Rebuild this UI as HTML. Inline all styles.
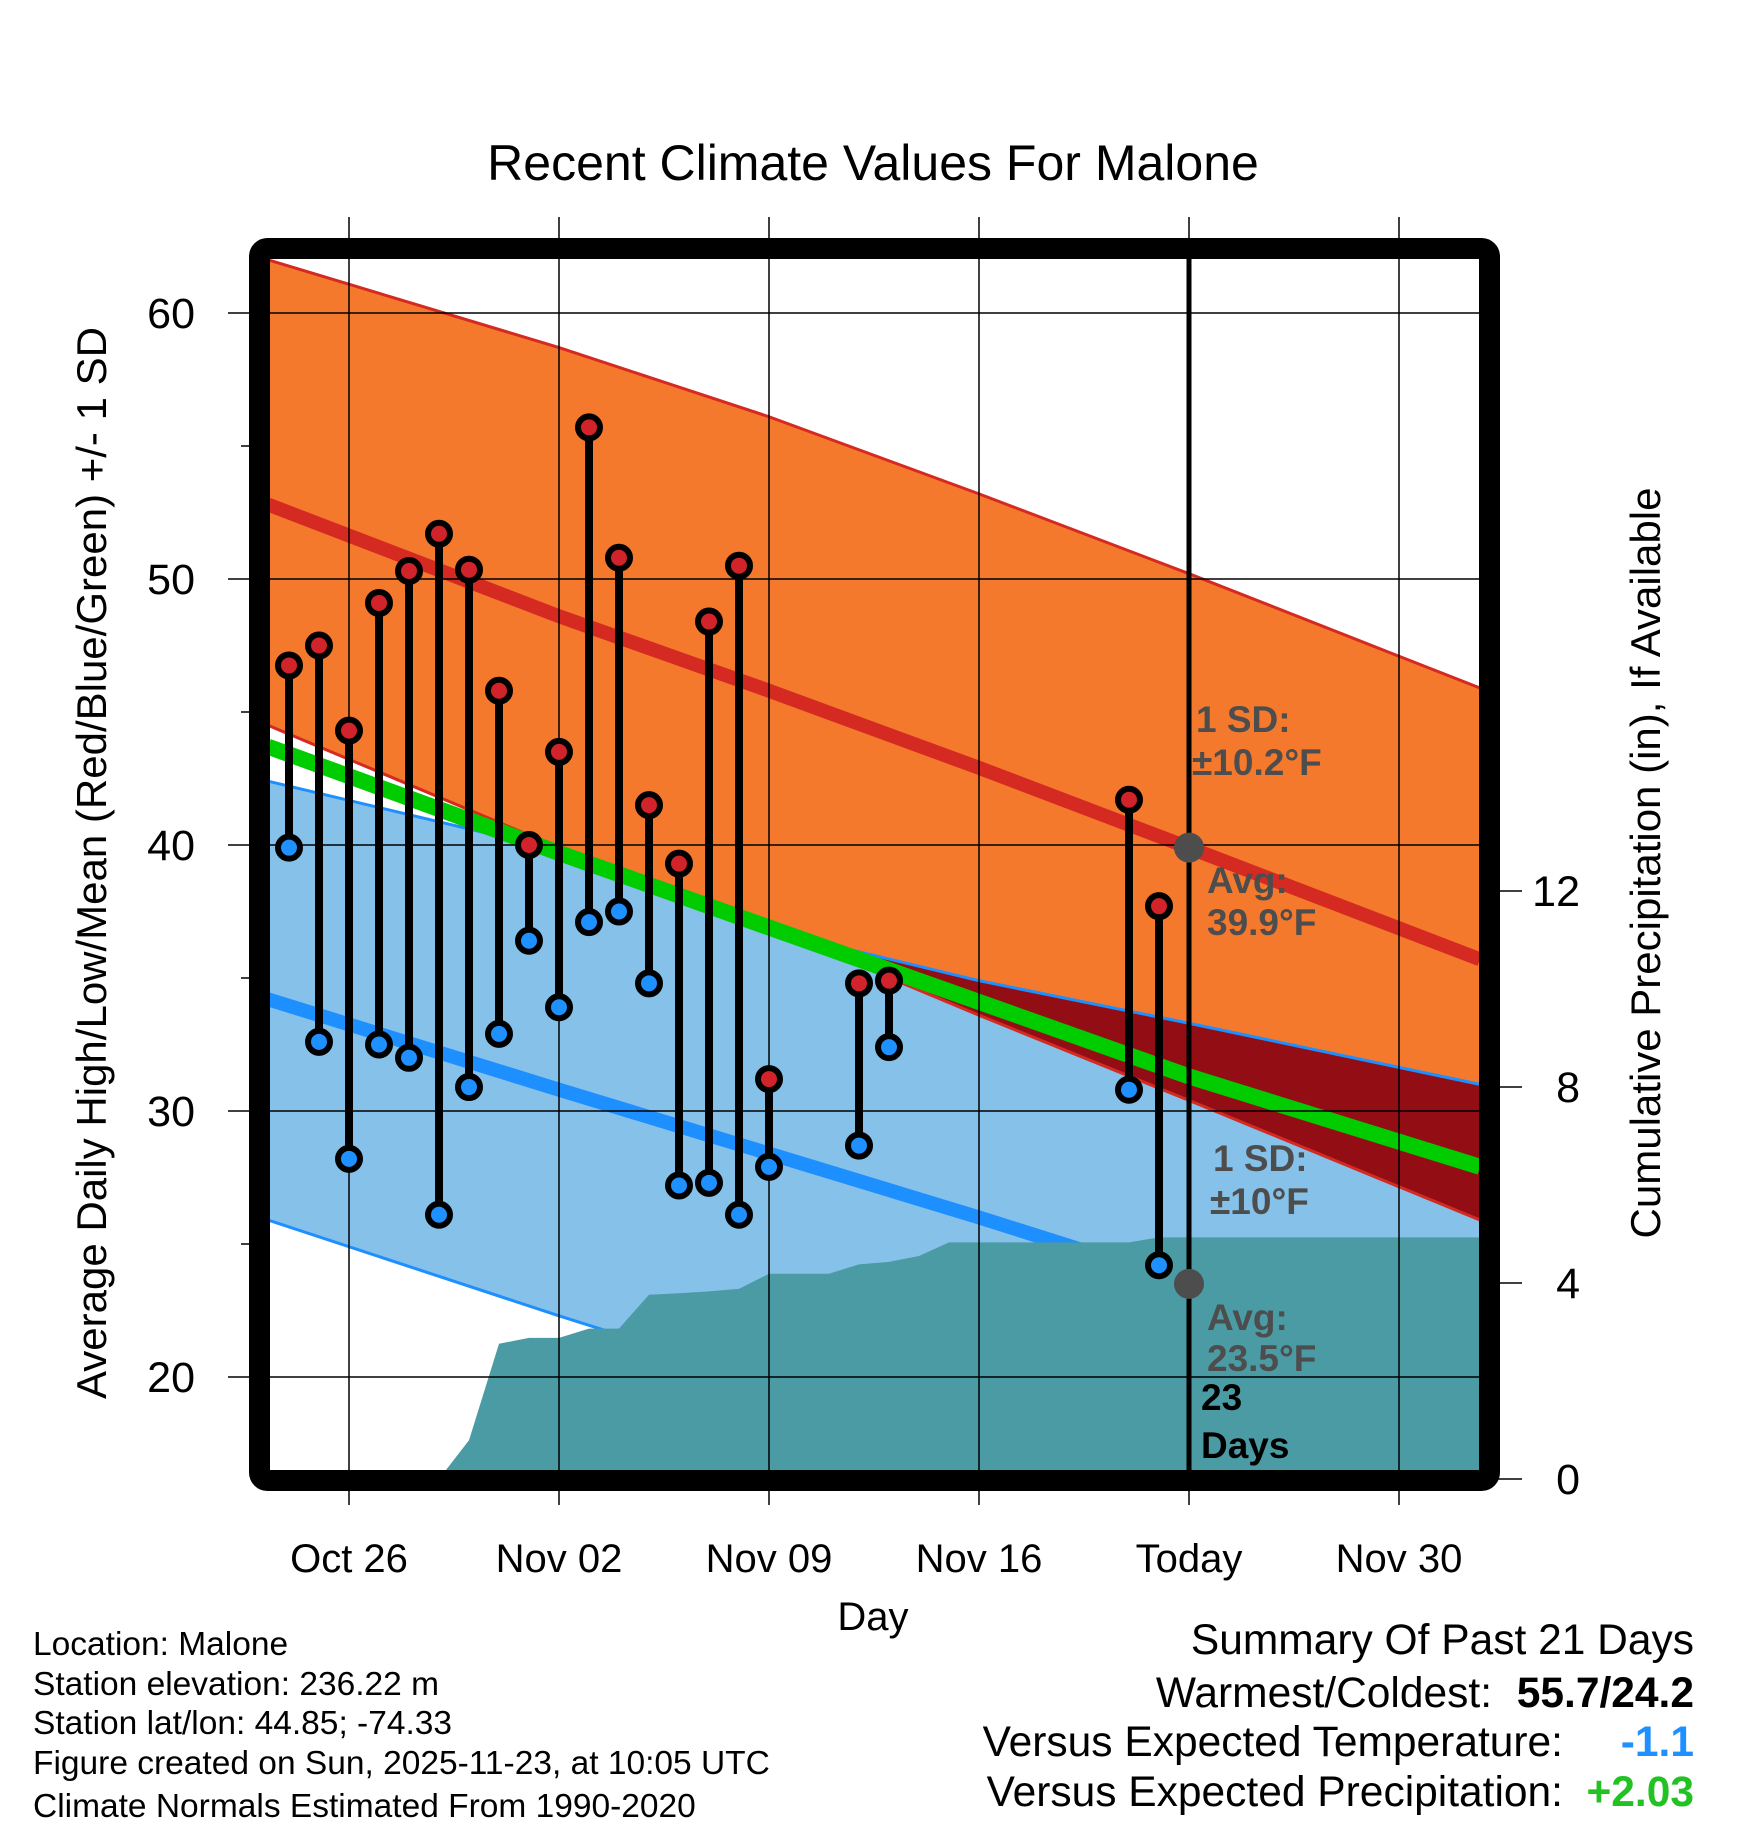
<!DOCTYPE html>
<html><head><meta charset="utf-8"><style>
body{margin:0;background:#fff}
svg{display:block;font-family:"Liberation Sans",Arial,sans-serif}
</style></head><body>
<svg id="chart" width="1748" height="1828" viewBox="0 0 1748 1828">
<defs>
<clipPath id="plotclip"><rect x="270" y="259" width="1209" height="1211"/></clipPath>
</defs>
<g id="plot" clip-path="url(#plotclip)"></g>
<g id="grid"></g>
<g id="marks" clip-path="url(#plotclip)"></g>
<rect x="259.5" y="248.5" width="1230" height="1232" fill="none" stroke="#000" stroke-width="21" rx="8"/>
<g id="axes"></g>
<text x="873" y="180" font-size="50" text-anchor="middle">Recent Climate Values For Malone</text>
<text x="873" y="1630" font-size="40" text-anchor="middle">Day</text>
<text transform="translate(106,863) rotate(-90)" font-size="42" text-anchor="middle">Average Daily High/Low/Mean (Red/Blue/Green) +/- 1 SD</text>
<text transform="translate(1660,863) rotate(-90)" font-size="42" text-anchor="middle">Cumulative Precipitation (in), If Available</text>
<g font-size="33.5">
<text x="33" y="1655">Location: Malone</text>
<text x="33" y="1695">Station elevation: 236.22 m</text>
<text x="33" y="1734">Station lat/lon: 44.85; -74.33</text>
<text x="33" y="1774">Figure created on Sun, 2025-11-23, at 10:05 UTC</text>
<text x="33" y="1817">Climate Normals Estimated From 1990-2020</text>
</g>
<g font-size="42.5" text-anchor="end">
<text x="1694" y="1654">Summary Of Past 21 Days</text>
<text x="1492" y="1707">Warmest/Coldest:</text>
<text x="1694" y="1707" font-weight="bold">55.7/24.2</text>
<text x="1563" y="1756">Versus Expected Temperature:</text>
<text x="1694" y="1756" font-weight="bold" fill="#1e90ff">-1.1</text>
<text x="1563" y="1806">Versus Expected Precipitation:</text>
<text x="1694" y="1806" font-weight="bold" fill="#22c222">+2.03</text>
</g>
</svg>
<script>
// day index: 0 = Oct 26
const obsDays = [-2,-1,0,1,2,3,4,5,6,7,8,9,10,11,12,13,14,17,18,26,27];
const highs = [46.75,47.5,44.3,49.1,50.3,51.7,50.35,45.8,40.0,43.5,55.7,50.8,41.5,39.3,48.4,50.5,31.2,34.8,34.9,41.7,37.7];
const lows = [39.9,32.6,28.2,32.5,32.0,26.1,30.9,32.9,36.4,33.9,37.1,37.5,34.8,27.2,27.3,26.1,27.9,28.7,32.4,30.8,24.2];
const normDays = [-2.7, 7, 14, 21, 28, 37.7];
const normHigh = [52.8, 48.6, 45.8, 42.9, 39.9, 35.7];
const normHighUp = [62.0, 58.7, 56.1, 53.2, 50.2, 45.9];
const normHighLo = [44.5, 39.9, 36.9, 33.6, 30.4, 25.9];
const normLow = [34.2, 30.8, 28.4, 26.0, 23.5, 20.1];
const normLowUp = [42.4, 39.8, 36.8, 34.9, 33.3, 31.0];
const normLowLo = [25.9, 22.3, 19.8, 17.3, 14.8, 11.6];
const normMean = [43.7, 39.7, 36.9, 34.1, 31.3, 27.9];
const precipDays = [3,4,5,6,7,8,9,10,11,12,13,14,15,16,17,18,19,20,21,22,23,24,25,26,27,28,38];
const precipVals = [0,0.79,2.76,2.88,2.88,3.07,3.07,3.76,3.79,3.83,3.88,4.19,4.19,4.19,4.38,4.43,4.55,4.83,4.83,4.83,4.83,4.83,4.83,4.83,4.93,4.93,4.93];
const yTicks = [20,30,40,50,60];
const yMinor = [25,35,45,55];
const pTicks = [0,4,8,12];
const xTickDays = [0,7,14,21,28,35];
const xTickLabels = ["Oct 26","Nov 02","Nov 09","Nov 16","Today","Nov 30"];
const todayDay = 28;

const NS="http://www.w3.org/2000/svg";
const X = d => 349 + 30*d;
const Y = v => 313 + (60-v)*26.6;
const YP = p => 1479 - p*49;
function mk(tag, attrs, parent){const e=document.createElementNS(NS,tag);for(const k in attrs)e.setAttribute(k,attrs[k]);parent.appendChild(e);return e;}
const plot=document.getElementById('plot'), grid=document.getElementById('grid'), marks=document.getElementById('marks'), axes=document.getElementById('axes');
function pts(days, vals){return days.map((d,i)=>X(d)+','+Y(vals[i]));}
function band(lo, up){return pts(normDays,up).concat(pts(normDays,lo).reverse()).join(' ');}

const blue=mk('polygon',{points:band(normLowLo,normLowUp),fill:'#85c1e8'},plot);


const orange=mk('polygon',{points:band(normHighLo,normHighUp),fill:'#f5792d'},plot);


const cp=mk('clipPath',{id:'orclip'},document.querySelector('defs'));
mk('polygon',{points:band(normHighLo,normHighUp)},cp);
const ov=mk('polygon',{points:band(normLowLo,normLowUp),fill:'#920e14','clip-path':'url(#orclip)'},plot);


function line(vals,color,w,name){const l=mk('polyline',{points:pts(normDays,vals).join(' '),fill:'none',stroke:color,'stroke-width':w},plot);

}
line(normHighUp,'#d42a22',3,'high-upper-sd-line');
line(normHighLo,'#d42a22',3,'high-lower-sd-line');
line(normLowUp,'#1e8fff',3,'low-upper-sd-line');
line(normLowLo,'#1e8fff',3,'low-lower-sd-line');
line(normHigh,'#d42a22',14,'avg-high-line');
line(normLow,'#1e8fff',14,'avg-low-line');
line(normMean,'#00cc00',16,'avg-mean-line');
const pp=precipDays.map((d,i)=>X(d)+','+YP(precipVals[i]));
pp.push(X(precipDays[precipDays.length-1])+','+YP(0)); pp.push(X(precipDays[0])+','+YP(0));
const pr=mk('polygon',{points:pp.join(' '),fill:'#4a9ba4'},plot);



// grid
yTicks.forEach(v=>{const l=mk('line',{x1:228,x2:1479,y1:Y(v),y2:Y(v),stroke:'#000','stroke-width':1.5},grid);


const t=mk('text',{x:195,y:Y(v)+15,'font-size':43,'text-anchor':'end'},axes);t.textContent=v;

});
yMinor.forEach(v=>{const l=mk('line',{x1:241,x2:252,y1:Y(v),y2:Y(v),stroke:'#000','stroke-width':1.5},grid);

});
xTickDays.forEach((d,i)=>{const l=mk('line',{x1:X(d),x2:X(d),y1:217,y2:1505,stroke:'#000','stroke-width':1.5},grid);


const t=mk('text',{x:X(d),y:1572,'font-size':40,'text-anchor':'middle'},axes);t.textContent=xTickLabels[i];

});
pTicks.forEach(p=>{const l=mk('line',{x1:1496,x2:1522,y1:YP(p),y2:YP(p),stroke:'#000','stroke-width':1.5},axes);


const t=mk('text',{x:1580,y:YP(p)+15,'font-size':43,'text-anchor':'end'},axes);t.textContent=p;

});

// today line
const tl=mk('line',{x1:X(todayDay),x2:X(todayDay),y1:259,y2:1470,stroke:'#000','stroke-width':5},marks);


// observations
obsDays.forEach((d,i)=>{
const s=mk('line',{x1:X(d),x2:X(d),y1:Y(highs[i]),y2:Y(lows[i]),stroke:'#000','stroke-width':8},marks);


const h=mk('circle',{cx:X(d),cy:Y(highs[i]),r:11,fill:'#d0232a',stroke:'#000','stroke-width':6},marks);


const lo=mk('circle',{cx:X(d),cy:Y(lows[i]),r:11,fill:'#1e90ff',stroke:'#000','stroke-width':6},marks);


});
const ti=normDays.indexOf(todayDay);
const g1=mk('circle',{cx:X(todayDay),cy:Y(normHigh[ti]),r:15,fill:'#4d4d4d'},marks);


const g2=mk('circle',{cx:X(todayDay),cy:Y(normLow[ti]),r:15,fill:'#4d4d4d'},marks);


// annotations
const ann=[[1196,732,'1 SD:','#4d4d4d'],[1192,775,'±10.2°F','#4d4d4d'],[1207,893,'Avg:','#4d4d4d'],[1207,935,'39.9°F','#4d4d4d'],
[1213,1171,'1 SD:','#4d4d4d'],[1210,1214,'±10°F','#4d4d4d'],[1207,1330,'Avg:','#4d4d4d'],[1207,1371,'23.5°F','#4d4d4d'],
[1201,1410,'23','#000'],[1201,1458,'Days','#000']];
ann.forEach(a=>{const t=mk('text',{x:a[0],y:a[1],'font-size':37,'font-weight':'bold',fill:a[3]},axes);t.textContent=a[2];

});
</script>
</body></html>
